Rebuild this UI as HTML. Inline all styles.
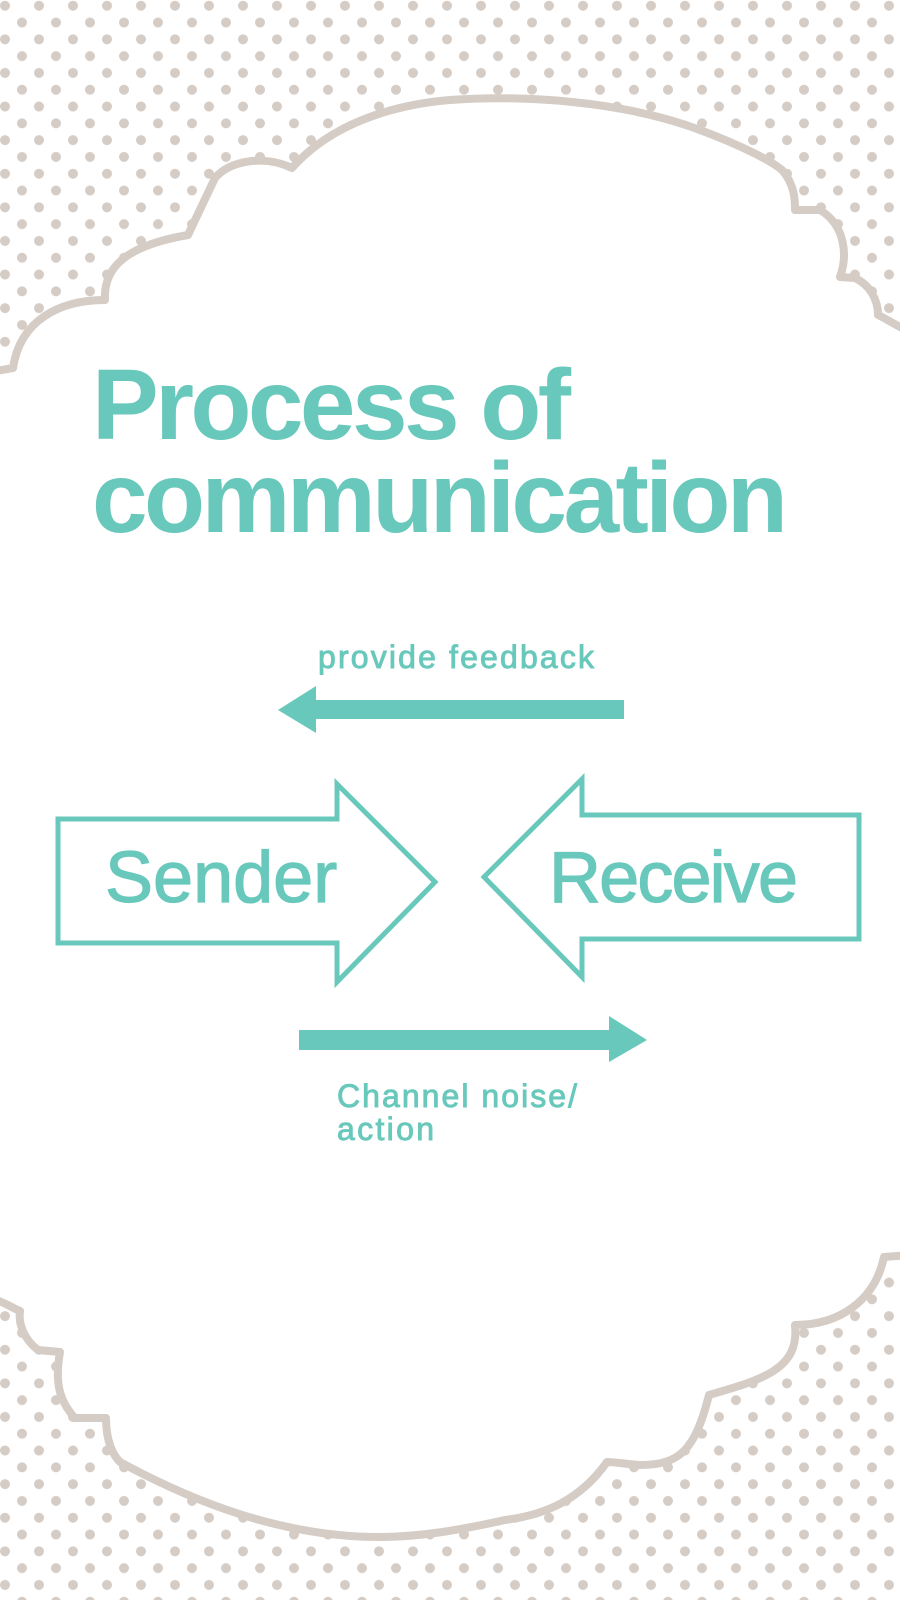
<!DOCTYPE html>
<html><head><meta charset="utf-8"><style>
html,body{margin:0;padding:0;background:#fff;}
svg{display:block;}
</style></head><body>
<svg width="900" height="1600" viewBox="0 0 900 1600" xmlns="http://www.w3.org/2000/svg">
<defs>
<pattern id="dots" x="0" y="0" width="34" height="33.6" patternUnits="userSpaceOnUse">
<circle cx="5" cy="5.7" r="5" fill="#d5ccc5"/>
<circle cx="22" cy="22.5" r="5" fill="#d5ccc5"/>
<circle cx="39" cy="5.7" r="5" fill="#d5ccc5"/>
<circle cx="5" cy="39.3" r="5" fill="#d5ccc5"/>
<circle cx="39" cy="39.3" r="5" fill="#d5ccc5"/>
<circle cx="22" cy="-11.1" r="5" fill="#d5ccc5"/>
</pattern>
</defs>
<rect width="900" height="1600" fill="#fff"/>
<rect width="900" height="1600" fill="url(#dots)"/>
<path d="M -10 372 L 13 368 C 20 320, 60 300, 105 300 C 103 265, 130 245, 188 235 L 215 178 C 230 160, 265 155, 292 168 C 330 125, 390 105, 450 100 C 520 95, 620 100, 700 130 C 740 145, 770 160, 782 170 C 795 185, 795 200, 795 210 L 820 210 C 845 225, 848 255, 840 277 L 855 278 C 870 285, 878 300, 878 315 C 885 318, 895 325, 910 332 L 910 1255 L 884 1257 C 875 1300, 840 1325, 795 1325 C 800 1370, 760 1380, 709 1395 C 695 1450, 680 1465, 640 1465 C 625 1464, 615 1462, 607 1462 C 580 1500, 545 1515, 505 1520 C 460 1530, 420 1537, 379 1537 C 280 1537, 190 1500, 120 1462 C 108 1450, 106 1430, 106 1418 L 75 1418 C 58 1400, 55 1380, 60 1352 L 38 1350 C 25 1340, 18 1325, 20 1311 C 12 1308, 5 1302, -10 1298 Z" fill="#fff" stroke="#d5ccc5" stroke-width="8" stroke-linejoin="round"/>

<g font-family="'Liberation Sans', sans-serif" fill="#68c8bb" stroke="#68c8bb">
<text x="92" y="439" font-size="100" font-weight="bold" stroke-width="0" textLength="479" lengthAdjust="spacing">Process of</text>
<text x="92" y="532" font-size="100" font-weight="bold" stroke-width="0" textLength="696" lengthAdjust="spacing">communication</text>
<text x="318" y="668" font-size="32" stroke-width="0.9" textLength="276" lengthAdjust="spacing">provide feedback</text>
<text x="105" y="902" font-size="72" stroke-width="1.2">Sender</text>
<text x="549" y="902" font-size="72" stroke-width="1.2" textLength="249" lengthAdjust="spacing">Receive</text>
<text x="337" y="1107" font-size="32" stroke-width="0.9" textLength="240" lengthAdjust="spacing">Channel noise/</text>
<text x="337" y="1140" font-size="32" stroke-width="0.9" textLength="97" lengthAdjust="spacing">action</text>
</g>

<polygon points="316,700 624,700 624,719 316,719 316,733 278,710 316,686" fill="#68c8bb"/>
<polygon points="299,1030 609,1030 609,1016 647,1040 609,1062 609,1050 299,1050" fill="#68c8bb"/>

<polygon points="58,819 337,819 337,784 435,882 337,982 337,943 58,943" fill="none" stroke="#68c8bb" stroke-width="5"/>
<polygon points="859,815 582,815 582,779 484,877 582,977 582,939 859,939" fill="none" stroke="#68c8bb" stroke-width="5"/>
</svg>
</body></html>
